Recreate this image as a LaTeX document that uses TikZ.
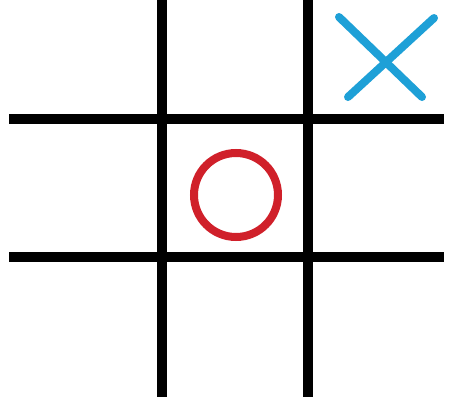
\documentclass[tikz,border=0pt]{standalone}
\definecolor{xblue}{RGB}{30,160,215}
\definecolor{ored}{RGB}{208,32,42}
\begin{document}
\begin{tikzpicture}[x=1pt,y=-1pt,
  gridline/.style={line width=10pt,black},
  xmark/.style={line width=8pt,xblue,line cap=round},
  omark/.style={line width=8pt,ored}]
\fill[white] (0,0) rectangle (450,397);
\useasboundingbox (0,0) rectangle (450,397);
\draw[gridline] (162,0) -- (162,397);
\draw[gridline] (307.5,0) -- (307.5,397);
\draw[gridline] (9,119) -- (444,119);
\draw[gridline] (9,257) -- (444,257);
\draw[xmark] (339,17) -- (422,97);
\draw[xmark] (434,18) -- (348,97);
\draw[omark] (236,195) circle (42);
\end{tikzpicture}
\end{document}
